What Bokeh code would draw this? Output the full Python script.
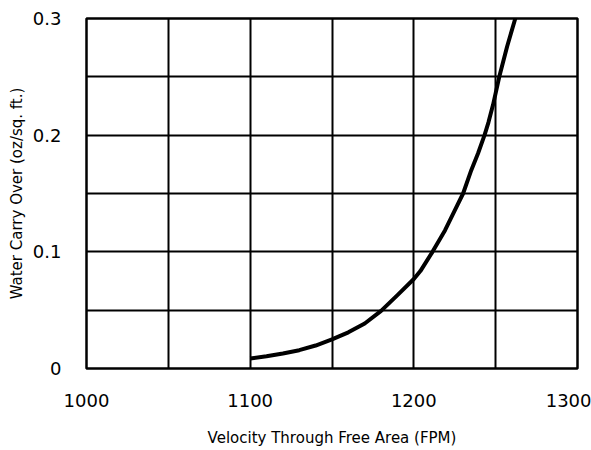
from bokeh.plotting import figure
from bokeh.models import FixedTicker, CustomJSTickFormatter, Range1d
from bokeh.embed import file_html
from bokeh.resources import INLINE

# Data
velocity = [1100, 1110, 1120, 1130, 1140, 1150, 1160, 1170, 1180, 1190, 1200, 1204,
            1211.4, 1219.1, 1225.1, 1230.1, 1235.1, 1239.2, 1243.2, 1245.6, 1248.4,
            1252.2, 1257, 1262]
carry_over = [0.0086, 0.0105, 0.0129, 0.0157, 0.0197, 0.0249, 0.031, 0.0386, 0.0494,
              0.0629, 0.0767, 0.0835, 0.100, 0.1186, 0.1357, 0.150, 0.170, 0.1843,
              0.200, 0.211, 0.226, 0.250, 0.276, 0.300]

x_ticks = [1000, 1100, 1200, 1300]
x_grid = [1000, 1050, 1100, 1150, 1200, 1250, 1300]
y_ticks = [0, 0.1, 0.2, 0.3]
y_grid = [0, 0.05, 0.1, 0.15, 0.2, 0.25, 0.3]

FONT = "DejaVu Sans"

p = figure(
    output_backend="svg", toolbar_location=None,
    width=591, height=450,
    min_border_left=86, min_border_right=14, min_border_top=18, min_border_bottom=82,
    x_range=Range1d(1000, 1300), y_range=Range1d(0, 0.3),
)
p.background_fill_color = "white"
p.border_fill_color = "white"
p.outline_line_color = "black"
p.outline_line_width = 2.5
p.outline_line_alpha = 1

p.line(velocity, carry_over, line_color="black", line_width=4, line_join="round")

for ax in (p.xaxis[0], p.yaxis[0]):
    ax.axis_line_color = None
    ax.major_tick_line_color = None
    ax.minor_tick_line_color = None
    ax.major_tick_out = 0
    ax.major_tick_in = 0
    ax.minor_tick_out = 0
    ax.minor_tick_in = 0
    ax.major_label_text_font = FONT
    ax.major_label_text_font_size = "18px"
    ax.major_label_text_color = "black"
    ax.axis_label_text_font = FONT
    ax.axis_label_text_font_size = "15px"
    ax.axis_label_text_font_style = "normal"
    ax.axis_label_text_color = "black"

p.xaxis.ticker = FixedTicker(ticks=x_ticks)
p.yaxis.ticker = FixedTicker(ticks=y_ticks)
p.yaxis.formatter = CustomJSTickFormatter(code="return tick == 0 ? '0' : tick.toFixed(1);")
p.xaxis.major_label_standoff = 25
p.yaxis.major_label_standoff = 25
p.xaxis.axis_label = "Velocity Through Free Area (FPM)"
p.yaxis.axis_label = "Water Carry Over (oz/sq. ft.)"
p.xaxis.axis_label_standoff = 19
p.yaxis.axis_label_standoff = 4

p.xgrid.ticker = FixedTicker(ticks=x_grid)
p.ygrid.ticker = FixedTicker(ticks=y_grid)
for g in (p.xgrid[0], p.ygrid[0]):
    g.grid_line_color = "black"
    g.grid_line_width = 2
    g.grid_line_alpha = 1

open("out.html", "w").write(file_html(p, INLINE))
